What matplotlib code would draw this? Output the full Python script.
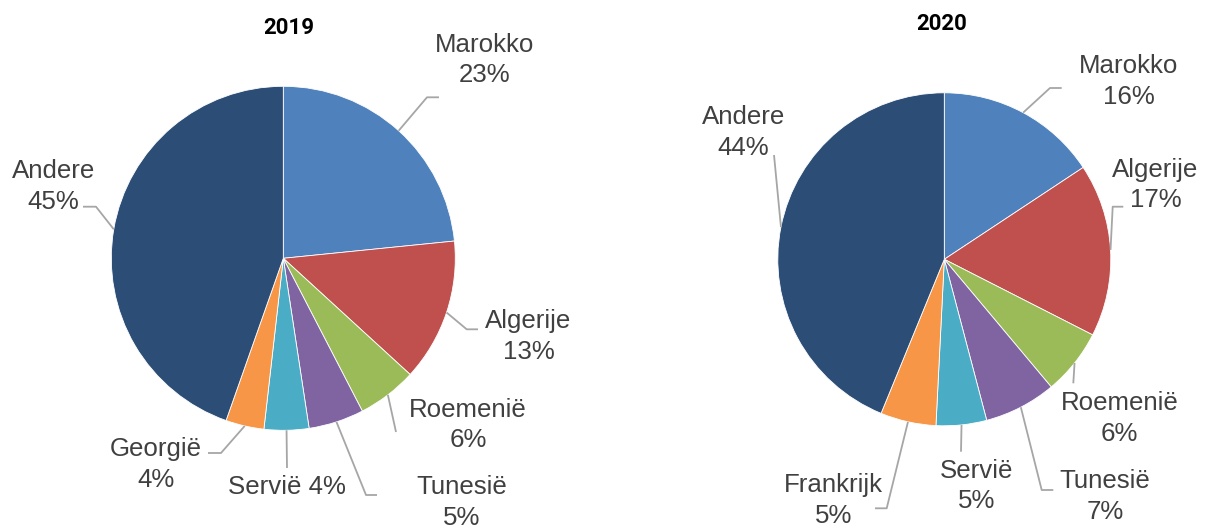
import numpy as np
import matplotlib
matplotlib.use("Agg")
import matplotlib.pyplot as plt

# Data (share of total)
labels_2019 = ["Marokko", "Algerije", "Roemenië", "Tunesië", "Servië", "Georgië", "Andere"]
values_2019 = [23.4, 13.4, 5.6, 5.2, 4.2, 3.6, 44.6]

labels_2020 = ["Marokko", "Algerije", "Roemenië", "Tunesië", "Servië", "Frankrijk", "Andere"]
values_2020 = [15.7, 16.8, 6.4, 7.0, 4.9, 5.4, 43.8]

colors = ["#4F81BD", "#C0504D", "#9BBB59", "#8064A2", "#4BACC6", "#F79646", "#2C4D75"]

# Layout in pixels (y measured from the top)
W, H = 1211, 528
txt_pos_2019 = [(484.5, 33.3), (528.5, 310), (468, 398.3), (461.5, 476),
                (287, 476), (156, 438), (53.3, 160)]
leader_2019 = [((427, 97.3), 439), ((466.7, 329.3), 478), ((396, 432), 396),
               ((366, 495), 377), ((287, 468), 287), ((221, 453), 208),
               ((96, 206.7), 83)]
one_line_2019 = [False, False, False, False, True, False, False]

txt_pos_2020 = [(1128.5, 55), (1155.5, 158.3), (1119.5, 391.7), (1105, 470),
                (976.5, 459.3), (833.7, 474), (743.3, 106)]
leader_2020 = [((1050, 88), 1061.7), ((1112.7, 206.7), 1123.3), ((1073.3, 383.3), 1073.3),
               ((1041.7, 490), 1053.3), ((961, 451.7), 961), ((886.7, 508.3), 875),
               ((774, 155), 774)]
one_line_2020 = [False] * 7

FS = 18.6
CAP = 18.3
LINE = 30.6
TXT_COLOR = "#404040"
LEAD_COLOR = "#A6A6A6"


def py(y):
    return H - y


def draw_pie(ax, values, labels, center, radius, txt_pos, leaders, one_line, title, title_pos):
    cx, cy = center[0], py(center[1])
    wedges, _ = ax.pie(values, colors=colors, startangle=90, counterclock=False,
                       center=(cx, cy), radius=radius,
                       wedgeprops=dict(linewidth=0.6, edgecolor="white"))
    for w, lab, val, (tx, ty), (elbow, xend), single in zip(wedges, labels, values,
                                                           txt_pos, leaders, one_line):
        mid = np.deg2rad((w.theta1 + w.theta2) / 2)
        x0 = cx + radius * np.cos(mid)
        y0 = cy + radius * np.sin(mid)
        ax.plot([x0, elbow[0], xend], [y0, py(elbow[1]), py(elbow[1])],
                color=LEAD_COLOR, lw=1.3, solid_capstyle="butt", zorder=1)
        pct = f"{val:.0f}%"
        if single:
            ax.text(tx, py(ty + CAP), f"{lab} {pct}", ha="center", va="baseline",
                    fontsize=FS, color=TXT_COLOR)
        else:
            ax.text(tx, py(ty + CAP), lab, ha="center", va="baseline",
                    fontsize=FS, color=TXT_COLOR)
            ax.text(tx, py(ty + CAP + LINE), pct, ha="center", va="baseline",
                    fontsize=FS, color=TXT_COLOR)
    ax.text(title_pos[0], py(title_pos[1]), title, ha="center", va="baseline",
            fontsize=16, fontweight="bold", family="Roboto", color="black")


plt.rcParams["font.family"] = ["Liberation Sans", "DejaVu Sans"]

fig = plt.figure(figsize=(W / 100, H / 100), dpi=100)
ax = fig.add_axes([0, 0, 1, 1])

draw_pie(ax, values_2019, labels_2019, (283.3, 258.3), 172, txt_pos_2019,
         leader_2019, one_line_2019, "2019", (288.7, 34.3))
draw_pie(ax, values_2020, labels_2020, (944.3, 259.3), 166.5, txt_pos_2020,
         leader_2020, one_line_2020, "2020", (942, 30))

ax.set_xlim(0, W)
ax.set_ylim(0, H)
ax.set_aspect("equal")
ax.axis("off")

fig.savefig("out.png", dpi=100, facecolor="white")
